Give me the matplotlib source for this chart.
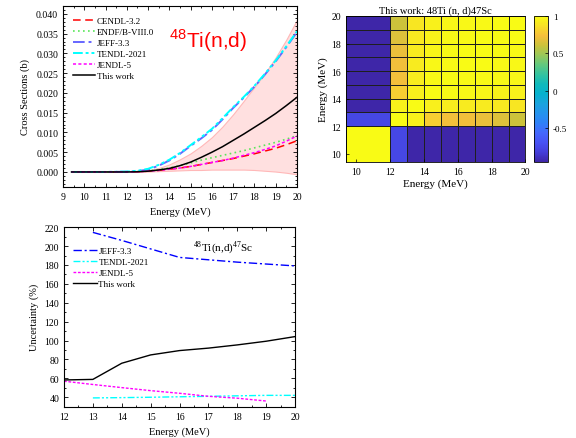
import numpy as np
import matplotlib
matplotlib.use("Agg")
import matplotlib.pyplot as plt
from matplotlib.colors import LinearSegmentedColormap
from matplotlib.ticker import MultipleLocator

plt.rcParams['font.family'] = ['Liberation Serif', 'DejaVu Serif']
plt.rcParams['mathtext.fontset'] = 'custom'
plt.rcParams['mathtext.rm'] = 'Liberation Serif'
plt.rcParams['mathtext.sf'] = 'Liberation Sans'
plt.rcParams['axes.unicode_minus'] = False

# --- cross sections (b), top-left panel ---
energy = [9.4, 10, 11, 12, 12.5, 13, 13.5, 14, 14.5, 15, 15.5, 16,
          16.5, 17, 17.5, 18, 18.5, 19, 19.5, 20]
cendl = [0, 0, 0, 0, 0.00005, 0.0002, 0.0004, 0.0007, 0.0010, 0.0014, 0.0019, 0.0024,
         0.0029, 0.0034, 0.0040, 0.0046, 0.0053, 0.0060, 0.0069, 0.0079]
endf = [0, 0, 0, 0, 0.0001, 0.0003, 0.0006, 0.0010, 0.0016, 0.0023, 0.0030, 0.0036,
        0.0042, 0.0048, 0.0054, 0.0061, 0.0068, 0.0075, 0.0083, 0.0092]
jeff = [0, 0, 0, 0.00005, 0.0002, 0.0006, 0.0016, 0.0029, 0.0046, 0.0066, 0.0085, 0.0106,
        0.0133, 0.0162, 0.0188, 0.0216, 0.0247, 0.0280, 0.0316, 0.0354]
tendl = [0, 0, 0, 0.0001, 0.0003, 0.0008, 0.0018, 0.0031, 0.0048, 0.0068, 0.0088, 0.0109,
         0.0136, 0.0164, 0.0190, 0.0218, 0.0249, 0.0282, 0.0318, 0.0356]
jendl = [0, 0, 0, 0, 0.00005, 0.0002, 0.0004, 0.0007, 0.0010, 0.0014, 0.0019, 0.0024,
         0.0029, 0.0035, 0.0042, 0.0049, 0.0057, 0.0066, 0.0078, 0.0091]
this_work = [0, 0, 0, 0, 0.00005, 0.0002, 0.0005, 0.0009, 0.0016, 0.0025, 0.0037, 0.0050,
             0.0064, 0.0080, 0.0096, 0.0113, 0.0130, 0.0148, 0.0168, 0.0189]
band_high = [0, 0, 0, 0, 0.0001, 0.0004, 0.0010, 0.0019, 0.0032, 0.0047, 0.0066, 0.0088,
             0.0115, 0.0146, 0.0180, 0.0215, 0.0250, 0.0290, 0.0335, 0.0385]
band_low = [0, 0, 0, 0, 0, 0.0001, 0.0002, 0.0003, 0.0004, 0.0005, 0.0005, 0.0006,
            0.0006, 0.0006, 0.0006, 0.0005, 0.0003, 0.0001, -0.0002, -0.0006]

# --- correlation matrix, top-right panel ---
bin_edges = [9.4, 12, 13, 14, 15, 16, 17, 18, 19, 20]
corr = [
    [1.00, -0.77, -0.95, -0.95, -0.95, -0.95, -0.95, -0.95, -0.95],
    [-0.77, 1.00, 0.95, 0.80, 0.73, 0.72, 0.70, 0.66, 0.61],
    [-0.95, 0.95, 1.00, 0.94, 0.93, 0.92, 0.92, 0.91, 0.90],
    [-0.95, 0.80, 0.94, 1.00, 0.99, 0.98, 0.97, 0.96, 0.95],
    [-0.95, 0.73, 0.93, 0.99, 1.00, 0.99, 0.99, 0.98, 0.97],
    [-0.95, 0.72, 0.92, 0.98, 0.99, 1.00, 1.00, 0.99, 0.98],
    [-0.95, 0.70, 0.92, 0.97, 0.99, 1.00, 1.00, 1.00, 0.99],
    [-0.95, 0.66, 0.91, 0.96, 0.98, 0.99, 1.00, 1.00, 1.00],
    [-0.95, 0.61, 0.90, 0.95, 0.97, 0.98, 0.99, 1.00, 1.00],
]

# --- uncertainties (%), bottom panel ---
unc_e = [12, 13, 14, 15, 16, 17, 18, 19, 20]
unc_jeff = [np.nan, 214.5, 206, 197, 188, 185.5, 183, 181, 179]
unc_tendl = [np.nan, 39.3, 39.6, 40, 40.5, 41, 41.5, 42, 42]
unc_jendl = [57, 53.5, 50.2, 47, 44.2, 41, 39, 36, np.nan]
unc_this = [58.3, 58.9, 76, 84.8, 89.4, 92, 95.4, 99.3, 104.2]

parula = LinearSegmentedColormap.from_list("parula", [
    (0.2422, 0.1504, 0.6603), (0.2691, 0.2464, 0.8586), (0.2810, 0.3228, 0.9579),
    (0.2653, 0.4092, 0.9936), (0.1838, 0.5054, 0.9730), (0.1453, 0.5773, 0.9307),
    (0.1033, 0.6412, 0.8705), (0.0227, 0.6946, 0.8069), (0.0589, 0.7291, 0.7367),
    (0.2025, 0.7629, 0.6265), (0.3853, 0.7869, 0.4962), (0.6037, 0.7855, 0.3492),
    (0.8000, 0.7614, 0.2306), (0.9640, 0.7479, 0.2327), (0.9716, 0.8780, 0.1518),
    (0.9769, 0.9839, 0.0805)])


def style_axes(ax, fs=7):
    ax.tick_params(which='both', direction='in', top=True, right=True,
                   labelsize=fs, width=0.6)
    ax.tick_params(which='major', length=3)
    ax.tick_params(which='minor', length=1.6)
    for s in ax.spines.values():
        s.set_linewidth(0.8)


fig = plt.figure(figsize=(5.76, 4.39), dpi=100)

# top-left: cross sections
ax1 = fig.add_axes([0.1094, 0.5718, 0.4062, 0.4123])
ax1.fill_between(energy, band_low, band_high, facecolor=(1.0, 0.88, 0.88),
                 edgecolor=(1.0, 0.72, 0.72), lw=0.8)
ax1.plot(energy, cendl, color='red', ls=(0, (5, 3)), lw=1.1, label='CENDL-3.2')
ax1.plot(energy, endf, color=(0.35, 0.9, 0.35), ls=(0, (1, 2)), lw=1.2, label='ENDF/B-VIII.0')
ax1.plot(energy, jeff, color=(0.4, 0.4, 1.0), ls=(0, (6, 2, 1.5, 2)), lw=1.4, label='JEFF-3.3')
ax1.plot(energy, tendl, color='cyan', ls=(0, (5, 1.5, 1.5, 1.5, 1.5, 1.5)), lw=1.4, label='TENDL-2021')
ax1.plot(energy, jendl, color='magenta', ls=(0, (2, 1.5)), lw=1.1, label='JENDL-5')
ax1.plot(energy, this_work, color='black', lw=1.1, label='This work')
ax1.set_xlim(9, 20)
ax1.set_ylim(-0.0038, 0.042)
ax1.xaxis.set_major_locator(MultipleLocator(1))
ax1.xaxis.set_minor_locator(MultipleLocator(0.5))
ax1.yaxis.set_major_locator(MultipleLocator(0.005))
ax1.yaxis.set_minor_locator(MultipleLocator(0.001))
ax1.yaxis.set_major_formatter(matplotlib.ticker.FormatStrFormatter('%.3f'))
style_axes(ax1)
ax1.set_xlabel('Energy (MeV)', fontsize=7.5, labelpad=4)
ax1.set_ylabel('Cross Sections (b)', fontsize=7.5, labelpad=4)
ax1.legend(loc='upper left', fontsize=6.5, frameon=False, handlelength=2.4,
           handletextpad=0.2, labelspacing=0.3, borderaxespad=0.85, borderpad=0.3)
ax1.text(14.0, 0.0316, r'$^{\mathsf{48}}$Ti(n,d)', color='red', fontsize=15,
         family=['Liberation Sans', 'DejaVu Sans'], ha='left', va='baseline')

# top-right: correlation matrix
ax2 = fig.add_axes([0.6007, 0.6287, 0.3116, 0.3326])
mesh = ax2.pcolormesh(bin_edges, bin_edges, np.array(corr), cmap=parula,
                      vmin=-0.955, vmax=1.0, edgecolors=(0.12, 0.12, 0.12), linewidth=0.6)
ax2.set_xlim(9.4, 20)
ax2.set_ylim(9.4, 20)
ax2.set_xticks([10, 12, 14, 16, 18, 20])
ax2.set_yticks([10, 12, 14, 16, 18, 20])
ax2.tick_params(direction='in', length=2, width=0.5, labelsize=7)
for s in ax2.spines.values():
    s.set_linewidth(0.6)
ax2.set_title('This work: 48Ti (n, d)47Sc', fontsize=7.5, pad=2)
ax2.set_xlabel('Energy (MeV)', fontsize=8, labelpad=2)
ax2.set_ylabel('Energy (MeV)', fontsize=8, labelpad=2)

cax = fig.add_axes([0.927, 0.6287, 0.0243, 0.3326])
cb = fig.colorbar(mesh, cax=cax, ticks=[-0.5, 0, 0.5, 1])
cb.ax.set_yticklabels(['-0.5', '0', '0.5', '1'])
cb.ax.tick_params(direction='in', length=2, width=0.5, labelsize=6.5)
cb.outline.set_linewidth(0.6)

# bottom: uncertainties
ax3 = fig.add_axes([0.1111, 0.0713, 0.4011, 0.41])
ax3.plot(unc_e, unc_jeff, color='blue', ls=(0, (6, 2, 1.5, 2)), lw=1.0, label='JEFF-3.3')
ax3.plot(unc_e, unc_tendl, color='cyan', ls=(0, (5, 1.5, 1.5, 1.5, 1.5, 1.5)), lw=1.0, label='TENDL-2021')
ax3.plot(unc_e, unc_jendl, color='magenta', ls=(0, (2, 1.2)), lw=1.0, label='JENDL-5')
ax3.plot(unc_e, unc_this, color='black', lw=1.0, label='This work')
ax3.set_xlim(12, 20)
ax3.set_ylim(30, 220.5)
ax3.xaxis.set_major_locator(MultipleLocator(1))
ax3.xaxis.set_minor_locator(MultipleLocator(0.5))
ax3.yaxis.set_major_locator(MultipleLocator(20))
ax3.yaxis.set_minor_locator(MultipleLocator(10))
style_axes(ax3)
ax3.set_xlabel('Energy (MeV)', fontsize=7.5, labelpad=4)
ax3.set_ylabel('Uncertainty (%)', fontsize=7.5, labelpad=4)
ax3.legend(loc='upper left', bbox_to_anchor=(0.016, 0.92), fontsize=6.5, frameon=False,
           handlelength=2.6, handletextpad=0.2, labelspacing=0.3, borderaxespad=0.3,
           borderpad=0.3)
ax3.text(16.47, 196, r'$^{48}$Ti(n,d)$^{47}$Sc', fontsize=8, ha='left', va='baseline')

fig.savefig('out.png', dpi=100)
